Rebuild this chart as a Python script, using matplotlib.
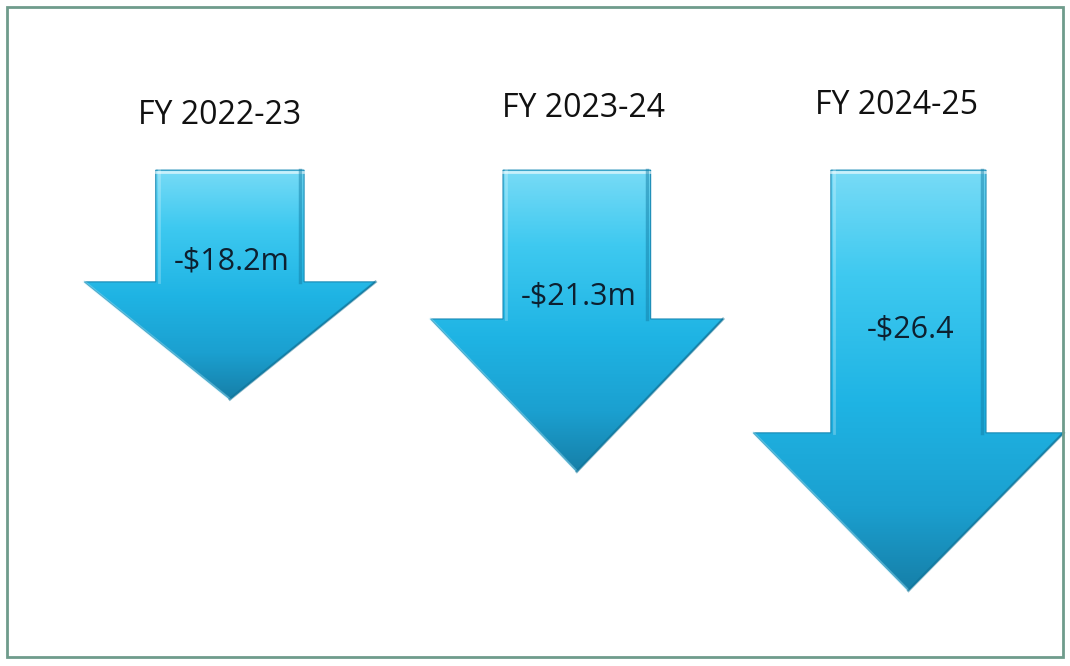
import numpy as np
import matplotlib.pyplot as plt
from matplotlib.colors import LinearSegmentedColormap
from matplotlib.patches import Polygon, Rectangle

# data
years = ["FY 2022-23", "FY 2023-24", "FY 2024-25"]
values = [18.2, 21.3, 26.4]
labels = ["-$18.2m", "-$21.3m", "-$26.4"]

# layout (value axis is inverted, arrows hang from a common baseline)
baseline = 8.38
head_len = [5.03, 6.54, 6.76]
shaft_half = [0.218, 0.217, 0.228]
head_half = [0.428, 0.43, 0.456]
x_pos = [0.0, 1.02, 1.995]
title_x = [-0.03, 1.04, 1.96]
title_y = [6.02, 5.72, 5.59]
label_y = [12.3, 13.8, 15.2]

plt.rcParams["font.family"] = ["Open Sans", "DejaVu Sans"]

fig = plt.figure(figsize=(10.7, 6.66), dpi=100)
ax = fig.add_axes([0, 0, 1, 1])
ax.set_xlim(-0.676, 2.47)
ax.set_ylim(29.63, 1.09)
ax.axis("off")

cmap = LinearSegmentedColormap.from_list(
    "arrow",
    [(0.0, "#78dbf6"), (0.25, "#3ec9f0"), (0.55, "#1fb4e4"),
     (0.8, "#1ba0d0"), (1.0, "#167fa8")],
)
grad = np.linspace(0, 1, 256).reshape(-1, 1)

for i, v in enumerate(values):
    x = x_pos[i]
    sh, hh = shaft_half[i], head_half[i]
    neck = v - head_len[i]
    pts = [
        (x - sh, baseline), (x + sh, baseline), (x + sh, neck),
        (x + hh, neck), (x, v), (x - hh, neck), (x - sh, neck),
    ]
    poly = Polygon(pts, closed=True, facecolor="none",
                   edgecolor="#1789b4", lw=0.8, zorder=3)
    ax.add_patch(poly)
    img = ax.imshow(grad, cmap=cmap, aspect="auto",
                    extent=(x - hh, x + hh, v, baseline), zorder=2)
    img.set_clip_path(poly)
    # bevel highlights and shadows
    ax.plot([x - sh, x + sh], [baseline + 0.08, baseline + 0.08],
            color="white", alpha=0.6, lw=2, zorder=4)
    ax.plot([x + sh - 0.012, x + sh - 0.012], [baseline, neck],
            color="#137ea6", alpha=0.5, lw=2.5, zorder=4)
    ax.plot([x - sh + 0.01, x - sh + 0.01], [baseline, neck],
            color="white", alpha=0.25, lw=2, zorder=4)
    ax.plot([x - hh, x], [neck, v], color="#b8ecfa", alpha=0.35,
            lw=2, zorder=4)
    ax.plot([x + hh, x], [neck, v], color="#0d6a8c", alpha=0.45,
            lw=2, zorder=4)

    ax.text(title_x[i], title_y[i], years[i], ha="center", va="center",
            fontsize=23, color="#111111", zorder=5)
    ax.text(x + 0.005, label_y[i], labels[i], ha="center", va="center",
            fontsize=22, color="#0d2030", zorder=5)

fig.patches.append(Rectangle((7 / 1070, 1 - 657 / 666), 1056 / 1070, 650 / 666,
                             transform=fig.transFigure, fill=False,
                             edgecolor="#6f9c8c", lw=2))

fig.savefig("out.png", dpi=100)
